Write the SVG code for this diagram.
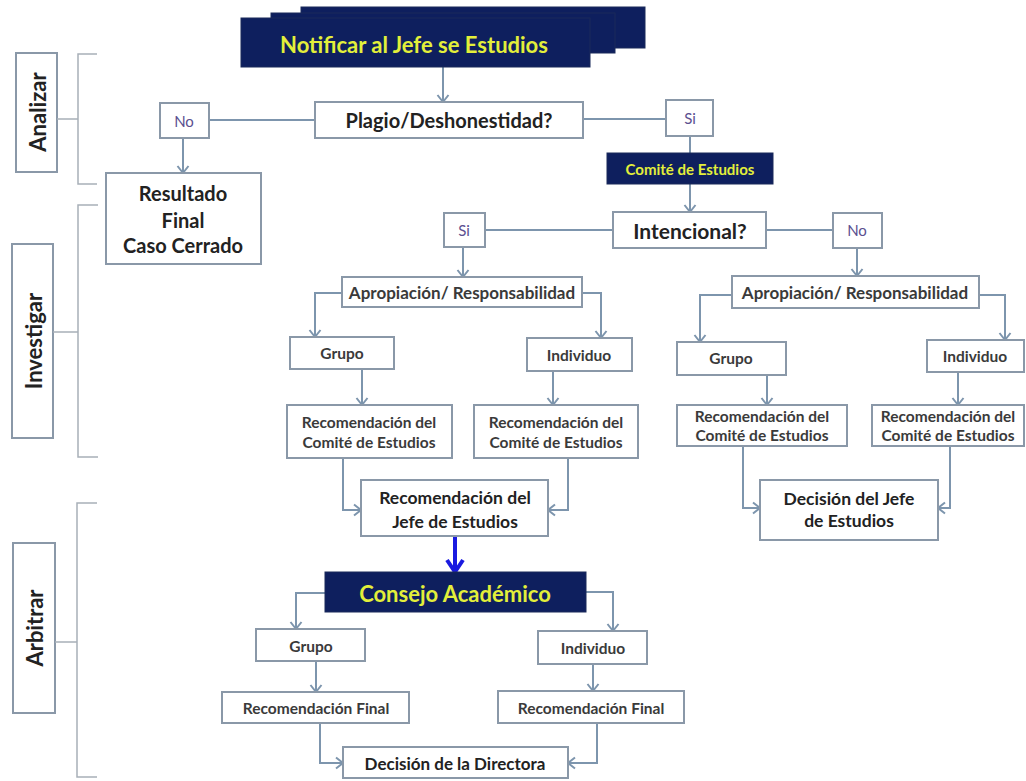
<svg xmlns="http://www.w3.org/2000/svg" width="1026" height="781" viewBox="0 0 1026 781">
<style>
.box{fill:#fff;stroke:#8a98a8;stroke-width:2}
.dark{fill:#0e1f5e;stroke:#1a2a5a;stroke-width:1}
.ln{fill:none;stroke:#7d95ad;stroke-width:2}
.br{fill:none;stroke:#a8b0b8;stroke-width:1.5}
.t{font-family:Lato,"Open Sans",sans-serif;font-weight:bold;fill:#222;text-anchor:middle;dominant-baseline:central}
.s{font-family:Lato,"Open Sans",sans-serif;font-weight:bold;fill:#3a3a3a;text-anchor:middle;dominant-baseline:central;font-size:15.5px}
.y{font-family:Lato,"Open Sans",sans-serif;font-weight:bold;fill:#e3ef3a;text-anchor:middle;dominant-baseline:central}
.p{font-family:Lato,"Open Sans",sans-serif;fill:#5b4f8f;text-anchor:middle;dominant-baseline:central;font-size:15px}
</style>
<defs>
<marker id="a" markerUnits="userSpaceOnUse" markerWidth="14" markerHeight="14" refX="10" refY="7" orient="auto">
<path d="M3,1.5 L10,7 L3,12.5" fill="none" stroke="#7d95ad" stroke-width="2"/>
</marker>
<marker id="b" markerUnits="userSpaceOnUse" markerWidth="20" markerHeight="20" refX="14" refY="10" orient="auto">
<path d="M2,2 L14,10 L2,18" fill="none" stroke="#1a1ae0" stroke-width="4"/>
</marker>
</defs>
<rect width="1026" height="781" fill="#fff"/>

<g id="phase-analizar">
<rect class="box" x="16" y="53" width="41" height="119"/>
<text class="t" font-size="22" transform="translate(37,112) rotate(-90)">Analizar</text>
<path class="br" d="M97,54 H78 V184 H97 M57,119 H78"/>
</g>
<g id="phase-investigar">
<rect class="box" x="12" y="244" width="41" height="194"/>
<text class="t" font-size="22" transform="translate(33,341) rotate(-90)">Investigar</text>
<path class="br" d="M98,205 H78 V457 H98 M53,332 H78"/>
</g>
<g id="phase-arbitrar">
<rect class="box" x="13" y="543" width="42" height="170"/>
<text class="t" font-size="22" transform="translate(34,628) rotate(-90)">Arbitrar</text>
<path class="br" d="M97,503 H77 V777 H97 M55,642 H77"/>
</g>

<g id="connectors">
<path class="ln" d="M443,67 V102" marker-end="url(#a)"/>
<path class="ln" d="M209,120 H315"/>
<path class="ln" d="M583,119 H666"/>
<path class="ln" d="M183,138 V173" marker-end="url(#a)"/>
<path class="ln" d="M690,136 V153"/>
<path class="ln" d="M690,184 V212" marker-end="url(#a)"/>
<path class="ln" d="M485,230 H613"/>
<path class="ln" d="M766,230 H833"/>
<path class="ln" d="M463,247 V277" marker-end="url(#a)"/>
<path class="ln" d="M857,248 V276" marker-end="url(#a)"/>
<path class="ln" d="M342,293 H315 V337" marker-end="url(#a)"/>
<path class="ln" d="M582,293 H601 V338" marker-end="url(#a)"/>
<path class="ln" d="M732,295 H700 V342" marker-end="url(#a)"/>
<path class="ln" d="M979,295 H1005 V340" marker-end="url(#a)"/>
<path class="ln" d="M362,369 V405" marker-end="url(#a)"/>
<path class="ln" d="M553,371 V405" marker-end="url(#a)"/>
<path class="ln" d="M767,375 V405" marker-end="url(#a)"/>
<path class="ln" d="M958,372 V405" marker-end="url(#a)"/>
<path class="ln" d="M343,458 V510 H361" marker-end="url(#a)"/>
<path class="ln" d="M568,458 V510 H548" marker-end="url(#a)"/>
<path class="ln" d="M743,446 V508 H760" marker-end="url(#a)"/>
<path class="ln" d="M950,446 V508 H938" marker-end="url(#a)"/>
<path d="M455,536 V572" fill="none" stroke="#1a1ae0" stroke-width="4" marker-end="url(#b)"/>
<path class="ln" d="M325,593 H296 V629" marker-end="url(#a)"/>
<path class="ln" d="M586,592 H613 V631" marker-end="url(#a)"/>
<path class="ln" d="M316,661 V692" marker-end="url(#a)"/>
<path class="ln" d="M593,664 V691" marker-end="url(#a)"/>
<path class="ln" d="M320,723 V763 H343" marker-end="url(#a)"/>
<path class="ln" d="M597,723 V763 H568" marker-end="url(#a)"/>
</g>

<g id="notificar">
<rect class="dark" x="301" y="7" width="344" height="41"/>
<rect class="dark" x="271" y="13" width="344" height="40"/>
<rect class="dark" x="241" y="18" width="349" height="49"/>
<text class="y" x="414" y="44" font-size="22">Notificar al Jefe se Estudios</text>
</g>
<g id="plagio">
<rect class="box" x="315" y="102" width="268" height="36"/>
<text class="t" x="449" y="120" font-size="20">Plagio/Deshonestidad?</text>
</g>
<g id="no1">
<rect class="box" x="160" y="103" width="49" height="35"/>
<text class="p" x="184" y="121">No</text>
</g>
<g id="si1">
<rect class="box" x="666" y="100" width="47" height="36"/>
<text class="p" x="690" y="118">Si</text>
</g>
<g id="resultado">
<rect class="box" x="106" y="173" width="155" height="91"/>
<text class="t" x="183" y="193" font-size="20">Resultado</text>
<text class="t" x="183" y="220" font-size="20">Final</text>
<text class="t" x="183" y="245" font-size="20">Caso Cerrado</text>
</g>
<g id="comite">
<rect class="dark" x="607" y="153" width="166" height="31"/>
<text class="y" x="690" y="169" font-size="15">Comité de Estudios</text>
</g>
<g id="intencional">
<rect class="box" x="613" y="212" width="153" height="36"/>
<text class="t" x="690" y="230" font-size="21">Intencional?</text>
</g>
<g id="si2">
<rect class="box" x="444" y="213" width="41" height="34"/>
<text class="p" x="464" y="230">Si</text>
</g>
<g id="no2">
<rect class="box" x="833" y="213" width="49" height="35"/>
<text class="p" x="857" y="230">No</text>
</g>
<g id="apropiacion-si">
<rect class="box" x="342" y="277" width="240" height="30"/>
<text class="s" x="462" y="292" font-size="17px" style="font-size:17px">Apropiación/ Responsabilidad</text>
</g>
<g id="apropiacion-no">
<rect class="box" x="732" y="276" width="247" height="32"/>
<text class="s" x="855" y="292" style="font-size:17px">Apropiación/ Responsabilidad</text>
</g>
<g id="grupo-si">
<rect class="box" x="290" y="337" width="104" height="32"/>
<text class="s" x="342" y="353">Grupo</text>
</g>
<g id="individuo-si">
<rect class="box" x="527" y="338" width="105" height="33"/>
<text class="s" x="579" y="355">Individuo</text>
</g>
<g id="grupo-no">
<rect class="box" x="677" y="342" width="109" height="33"/>
<text class="s" x="731" y="358">Grupo</text>
</g>
<g id="individuo-no">
<rect class="box" x="927" y="340" width="97" height="32"/>
<text class="s" x="975" y="356">Individuo</text>
</g>
<g id="rec1">
<rect class="box" x="287" y="405" width="165" height="53"/>
<text class="s" x="369" y="422">Recomendación del</text>
<text class="s" x="369" y="442">Comité de Estudios</text>
</g>
<g id="rec2">
<rect class="box" x="474" y="405" width="164" height="53"/>
<text class="s" x="556" y="422">Recomendación del</text>
<text class="s" x="556" y="442">Comité de Estudios</text>
</g>
<g id="rec3">
<rect class="box" x="677" y="405" width="170" height="41"/>
<text class="s" x="762" y="416">Recomendación del</text>
<text class="s" x="762" y="435">Comité de Estudios</text>
</g>
<g id="rec4">
<rect class="box" x="872" y="405" width="152" height="41"/>
<text class="s" x="948" y="416">Recomendación del</text>
<text class="s" x="948" y="435">Comité de Estudios</text>
</g>
<g id="rec-jefe">
<rect class="box" x="361" y="480" width="187" height="56"/>
<text class="t" x="455" y="497" font-size="17.5">Recomendación del</text>
<text class="t" x="455" y="521" font-size="17.5">Jefe de Estudios</text>
</g>
<g id="decision-jefe">
<rect class="box" x="760" y="480" width="178" height="60"/>
<text class="t" x="849" y="498" font-size="17.5">Decisión del Jefe</text>
<text class="t" x="849" y="520" font-size="17.5">de Estudios</text>
</g>
<g id="consejo">
<rect class="dark" x="325" y="572" width="261" height="40"/>
<text class="y" x="455" y="593" font-size="22">Consejo Académico</text>
</g>
<g id="grupo-c">
<rect class="box" x="256" y="629" width="109" height="32"/>
<text class="s" x="311" y="646">Grupo</text>
</g>
<g id="individuo-c">
<rect class="box" x="538" y="631" width="109" height="33"/>
<text class="s" x="593" y="648">Individuo</text>
</g>
<g id="recfinal-g">
<rect class="box" x="222" y="692" width="187" height="31"/>
<text class="s" x="316" y="708">Recomendación Final</text>
</g>
<g id="recfinal-i">
<rect class="box" x="498" y="691" width="186" height="32"/>
<text class="s" x="591" y="708">Recomendación Final</text>
</g>
<g id="directora">
<rect class="box" x="343" y="747" width="225" height="31"/>
<text class="t" x="455" y="763" font-size="17">Decisión de la Directora</text>
</g>
</svg>
